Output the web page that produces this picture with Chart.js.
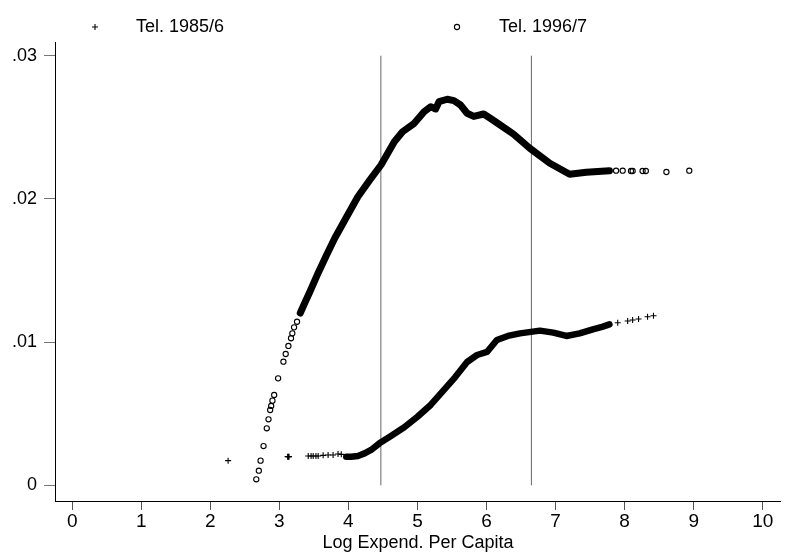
<!DOCTYPE html>
<html>
<head>
<meta charset="utf-8">
<script src="https://cdn.jsdelivr.net/npm/chart.js@4/dist/chart.umd.min.js"></script>
<style>
  html, body { margin: 0; padding: 0; background: #fff; }
  canvas { display: block; }
</style>
</head>
<body>
<canvas id="chart" width="786" height="556"></canvas>
<script>
// Tel. 1985/6 — isolated observations at the low end and the upper tail
const tel85MarkX = [2.258, 3.12, 3.131, 3.14, 3.418, 3.460, 3.490, 3.530, 3.562, 3.634, 3.706, 3.778, 3.850, 3.897,
                    7.900, 8.044, 8.116, 8.202, 8.332, 8.418];
const tel85MarkY = [0.00172, 0.00200, 0.00200, 0.00200, 0.00205, 0.00205, 0.00205, 0.00205, 0.00205, 0.00209, 0.00212, 0.00212, 0.00219, 0.00216,
                    0.01135, 0.01147, 0.01154, 0.01161, 0.01177, 0.01184];
// Tel. 1985/6 — densely packed observations (drawn as a solid band)
const tel85BandX = [3.969, 4.041, 4.137, 4.234, 4.328, 4.449, 4.616, 4.809, 5.000, 5.191, 5.384, 5.547,
                    5.719, 5.863, 6.007, 6.150, 6.309, 6.486, 6.773, 6.966, 7.157, 7.348, 7.541, 7.685, 7.780];
const tel85BandY = [0.00200, 0.00200, 0.00205, 0.00223, 0.00247, 0.00293, 0.00344, 0.00405, 0.00479, 0.00561, 0.00666, 0.00756,
                    0.00861, 0.00910, 0.00931, 0.01015, 0.01043, 0.01061, 0.01080, 0.01066, 0.01043, 0.01061, 0.01089, 0.01108, 0.01124];

// Tel. 1996/7 — isolated observations
const tel96MarkX = [2.666, 2.703, 2.728, 2.771, 2.818, 2.843, 2.867, 2.882, 2.900, 2.925, 2.982, 3.059,
                    3.092, 3.131, 3.169, 3.188, 3.213, 3.256,
                    7.876, 7.972, 8.092, 8.116, 8.260, 8.307, 8.605, 8.936];
const tel96MarkY = [0.00042, 0.00102, 0.00172, 0.00274, 0.00398, 0.00461, 0.00526, 0.00554, 0.00591, 0.00631, 0.00747, 0.00863,
                    0.00917, 0.00973, 0.01027, 0.01061, 0.01103, 0.01142,
                    0.02197, 0.02197, 0.02195, 0.02195, 0.02195, 0.02195, 0.02188, 0.02197];
// Tel. 1996/7 — densely packed observations
const tel96BandX = [3.303, 3.361, 3.447, 3.562, 3.677, 3.802, 3.965, 4.137, 4.310, 4.472, 4.665, 4.784,
                    4.953, 5.096, 5.191, 5.263, 5.312, 5.431, 5.528, 5.623, 5.719, 5.815, 5.959, 6.054,
                    6.198, 6.391, 6.629, 6.917, 7.204, 7.445, 7.780];
const tel96BandY = [0.01203, 0.01266, 0.01357, 0.01483, 0.01601, 0.01725, 0.01867, 0.02015, 0.02132, 0.02237, 0.02399, 0.02469,
                    0.02528, 0.02609, 0.02644, 0.02628, 0.02679, 0.02696, 0.02686, 0.02656, 0.02598, 0.02576, 0.02593, 0.02563,
                    0.02516, 0.02453, 0.02353, 0.02249, 0.02172, 0.02186, 0.02197];

// Reference cut-offs on log expenditure
const cutoffs = [4.47, 6.65];
const cutoffSpan = [0, 0.03];

// Axis ticks
const xTicks = [0, 1, 2, 3, 4, 5, 6, 7, 8, 9, 10];
const yTicks = [0, 0.01, 0.02, 0.03];

const seriesNames = ['Tel. 1985/6', 'Tel. 1996/7'];

const FONT = "'Liberation Sans', Arial, Helvetica, sans-serif";
const pts = (xs, ys) => xs.map((x, i) => ({ x, y: ys[i] }));

const datasets = [
  {
    type: 'scatter', label: seriesNames[0], data: pts(tel85MarkX, tel85MarkY),
    pointStyle: 'cross', pointRadius: 3, pointBorderWidth: 1.1,
    borderColor: '#000', backgroundColor: '#000', order: 1
  },
  {
    type: 'scatter', label: seriesNames[1], data: pts(tel96MarkX, tel96MarkY),
    pointStyle: 'circle', pointRadius: 2.6, pointBorderWidth: 1.1,
    borderColor: '#000', backgroundColor: 'rgba(255,255,255,0)', order: 1
  },
  {
    type: 'line', label: '', data: pts(tel85BandX, tel85BandY),
    borderColor: '#000', borderWidth: 6.5, pointRadius: 0,
    borderJoinStyle: 'round', borderCapStyle: 'round', tension: 0, order: 2
  },
  {
    type: 'line', label: '', data: pts(tel96BandX, tel96BandY),
    borderColor: '#000', borderWidth: 7, pointRadius: 0,
    borderJoinStyle: 'round', borderCapStyle: 'round', tension: 0, order: 2
  }
];
cutoffs.forEach(c => datasets.push({
  type: 'line', label: '', data: cutoffSpan.map(y => ({ x: c, y })),
  borderColor: '#666', borderWidth: 1, pointRadius: 0, order: 3
}));

// Key row across the top: symbol followed by series name
const keyRow = {
  id: 'keyRow',
  afterDraw(chart, args, opts) {
    const ctx = chart.ctx;
    ctx.save();
    ctx.font = opts.fontSize + 'px ' + FONT;
    ctx.textBaseline = 'middle';
    ctx.textAlign = 'left';
    opts.names.forEach((name, i) => {
      const ds = chart.data.datasets.find(d => d.label === name);
      const x = opts.symbolX[i], y = opts.y;
      ctx.fillStyle = ds.backgroundColor;
      ctx.strokeStyle = ds.borderColor;
      ctx.lineWidth = ds.pointBorderWidth;
      Chart.helpers.drawPoint(ctx, {
        pointStyle: ds.pointStyle, radius: ds.pointRadius, borderWidth: ds.pointBorderWidth
      }, x, y);
      ctx.fillStyle = '#000';
      ctx.fillText(name, opts.textX[i], y);
    });
    ctx.restore();
  }
};

new Chart(document.getElementById('chart'), {
  data: { datasets },
  plugins: [keyRow],
  options: {
    responsive: false,
    devicePixelRatio: 1,
    animation: false,
    layout: { padding: { top: 42, left: 0, right: 0, bottom: 0 } },
    plugins: {
      legend: { display: false },
      tooltip: { enabled: false },
      keyRow: { names: seriesNames, symbolX: [95, 457], textX: [136, 499], y: 27, fontSize: 18 }
    },
    scales: {
      x: {
        type: 'linear', position: 'bottom',
        min: -0.2488, max: 10.263,
        afterBuildTicks: s => { s.ticks = xTicks.map(v => ({ value: v })); },
        afterFit: s => { s.height = 55; },
        grid: { drawOnChartArea: false, drawTicks: true, tickLength: 9, color: '#555' },
        border: { display: true, color: '#000', width: 1 },
        ticks: { padding: 0, color: '#000', font: { family: FONT, size: 19 }, maxRotation: 0 },
        title: { display: true, text: 'Log Expend. Per Capita', color: '#000',
                 font: { family: FONT, size: 18 }, padding: { top: 0, bottom: 2 } }
      },
      y: {
        type: 'linear', position: 'left',
        min: -0.0010964, max: 0.030957,
        afterBuildTicks: s => { s.ticks = yTicks.map(v => ({ value: v })); },
        afterFit: s => { s.width = 55; },
        grid: { drawOnChartArea: false, drawTicks: true, tickLength: 11, color: '#777' },
        border: { display: true, color: '#000', width: 1 },
        ticks: {
          padding: 7, color: '#000', font: { family: FONT, size: 18 },
          callback: v => v === 0 ? '0' : v.toFixed(2).replace(/^0/, '')
        }
      }
    }
  }
});
</script>
</body>
</html>
